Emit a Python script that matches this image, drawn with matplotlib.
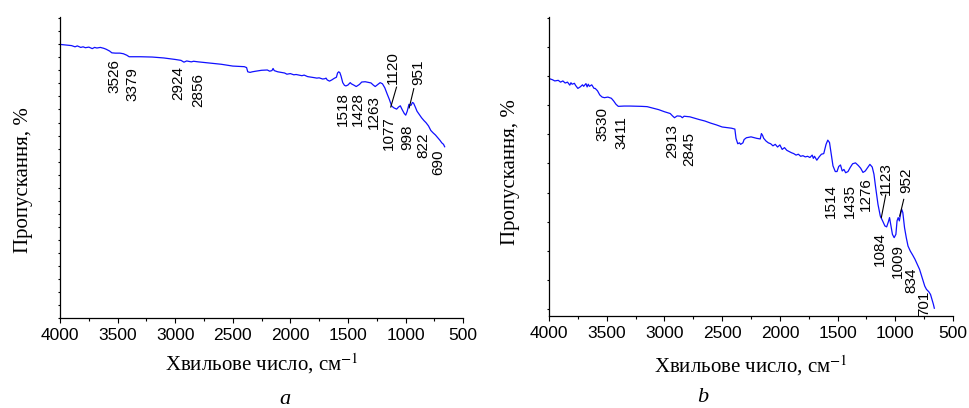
import numpy as np
import matplotlib
matplotlib.use("Agg")
import matplotlib.pyplot as plt
from matplotlib.ticker import MultipleLocator, FixedLocator, NullFormatter

plt.rcParams['mathtext.fontset'] = 'stix'

# ---- spectrum a (wavenumber, transmittance in % of axis height) ----
wn_a = [4000, 3950, 3900, 3870, 3850, 3820, 3800, 3780, 3750, 3720, 3700, 3680,
        3650, 3620, 3600, 3570, 3550, 3520, 3480, 3450, 3420, 3400, 3300, 3200,
        3100, 3000, 2950, 2924, 2900, 2860, 2840, 2800, 2700, 2600, 2500, 2400,
        2380, 2370, 2350, 2330, 2300, 2250, 2200, 2180, 2160, 2150, 2140, 2110,
        2080, 2050, 2030, 2000, 1970, 1950, 1900, 1880, 1850, 1800, 1770, 1750,
        1720, 1700, 1690, 1680, 1660, 1640, 1620, 1600, 1590, 1580, 1570, 1560,
        1545, 1530, 1518, 1500, 1480, 1470, 1450, 1428, 1400, 1380, 1350, 1300,
        1280, 1263, 1240, 1220, 1200, 1180, 1160, 1140, 1120, 1100, 1077, 1060,
        1045, 1030, 1010, 998, 985, 970, 960, 951, 940, 930, 915, 900, 880, 860,
        840, 822, 800, 780, 760, 740, 720, 700, 685, 670, 660]
tr_a = [90.9, 90.7, 90.5, 90.1, 90.4, 89.9, 90.1, 89.8, 90.0, 89.5, 89.9, 89.7,
        89.9, 89.6, 89.3, 88.7, 88.1, 88.0, 88.0, 87.8, 87.3, 86.8, 86.8, 86.7,
        86.4, 85.9, 85.6, 85.0, 85.4, 85.1, 85.3, 85.1, 84.7, 84.3, 83.7, 83.5,
        83.2, 81.8, 81.6, 81.8, 82.0, 82.3, 82.4, 82.0, 82.2, 82.9, 82.2, 81.8,
        81.6, 81.4, 81.0, 81.2, 80.8, 80.9, 80.5, 80.7, 80.2, 79.9, 79.7, 79.8,
        79.4, 79.5, 79.7, 79.1, 78.7, 79.1, 79.6, 80.0, 81.4, 81.8, 81.5, 80.4,
        78.2, 77.3, 77.1, 77.4, 78.2, 77.8, 77.4, 76.9, 77.6, 78.4, 78.5, 78.1,
        77.4, 76.9, 77.6, 78.2, 77.8, 76.5, 74.5, 72.6, 70.4, 69.8, 69.4, 70.1,
        70.5, 69.3, 67.9, 67.4, 68.7, 71.0, 70.7, 70.7, 71.6, 71.4, 70.1, 68.7,
        67.6, 66.5, 65.6, 64.9, 63.8, 62.3, 61.5, 60.8, 59.9, 59.0, 58.2, 57.7, 56.9]

# ---- spectrum b ----
wn_b = [4000, 3970, 3950, 3920, 3900, 3880, 3860, 3840, 3820, 3810, 3800, 3780,
        3770, 3750, 3730, 3710, 3700, 3680, 3670, 3660, 3650, 3630, 3610, 3600,
        3580, 3560, 3540, 3520, 3490, 3460, 3440, 3420, 3400, 3350, 3300, 3200,
        3150, 3100, 3050, 3000, 2950, 2930, 2913, 2890, 2860, 2845, 2830, 2780,
        2700, 2650, 2600, 2550, 2500, 2420, 2390, 2380, 2365, 2350, 2340, 2320,
        2310, 2290, 2250, 2200, 2170, 2160, 2150, 2140, 2120, 2100, 2080, 2060,
        2040, 2020, 2000, 1980, 1960, 1940, 1920, 1900, 1880, 1860, 1840, 1820,
        1800, 1780, 1760, 1740, 1720, 1710, 1700, 1680, 1660, 1640, 1620, 1600,
        1585, 1570, 1555, 1540, 1520, 1505, 1490, 1475, 1460, 1445, 1430, 1410,
        1390, 1370, 1345, 1320, 1300, 1280, 1260, 1240, 1220, 1200, 1185, 1170,
        1150, 1130, 1110, 1090, 1075, 1060, 1050, 1040, 1025, 1010, 995, 985,
        975, 965, 955, 945, 935, 920, 905, 890, 870, 850, 830, 810, 790, 775,
        760, 745, 730, 710, 695, 680, 670, 662]
tr_b = [79.4, 79.0, 78.6, 78.8, 78.2, 78.6, 77.9, 78.2, 77.2, 78.0, 77.5, 77.8,
        77.1, 76.1, 76.6, 77.3, 76.8, 77.7, 76.6, 77.5, 76.8, 77.3, 76.1, 76.1,
        75.3, 73.9, 73.2, 73.0, 73.2, 72.8, 71.9, 70.8, 70.1, 70.2, 70.2, 70.1,
        70.0, 69.5, 69.0, 68.3, 67.7, 66.9, 66.3, 66.9, 66.8, 66.3, 66.8, 66.6,
        65.7, 65.2, 64.5, 63.9, 63.2, 62.8, 62.5, 59.4, 57.6, 57.9, 57.4, 57.9,
        59.0, 59.6, 59.9, 59.4, 59.2, 61.0, 60.4, 59.4, 58.5, 57.9, 57.6, 56.9,
        57.4, 56.5, 57.2, 55.7, 56.3, 55.4, 55.0, 54.6, 54.3, 53.8, 54.1, 53.4,
        53.6, 53.2, 53.4, 53.0, 53.8, 52.7, 53.4, 52.1, 53.2, 54.1, 54.3, 57.4,
        58.8, 58.0, 54.1, 50.2, 48.3, 48.3, 50.0, 50.5, 48.5, 49.0, 47.9, 48.3,
        49.7, 50.9, 51.2, 50.3, 49.4, 48.0, 48.5, 49.6, 50.7, 49.8, 47.4, 42.9,
        37.3, 33.4, 31.8, 30.1, 29.8, 31.5, 32.9, 30.7, 27.3, 26.2, 27.3, 31.8,
        32.9, 31.8, 34.0, 35.7, 34.6, 29.5, 26.2, 23.4, 21.7, 20.4, 19.0, 17.3,
        15.6, 13.7, 11.7, 10.0, 8.9, 8.1, 7.2, 5.2, 3.9, 2.6]

# peak labels: text, x position, top of text
labels_a = ['3526', '3379', '2924', '2856', '1518', '1428', '1263', '1077',
            '998', '822', '690', '1120', '951']
lab_x_a = [3531, 3372, 2973, 2802, 1541, 1411, 1275, 1142, 986, 847, 717, 1107, 890]
lab_y_a = [85.9, 83.4, 83.7, 81.5, 75.2, 75.2, 74.1, 67.1, 64.3, 61.5, 56.0, 88.7, 85.9]
lead_a = [([1078, 1128], [76.7, 70.1]), ([928, 968], [76.2, 69.8])]

labels_b = ['3530', '3411', '2913', '2845', '1514', '1435', '1276', '1123',
            '952', '1084', '1009', '834', '701']
lab_x_b = [3541, 3373, 2934, 2781, 1554, 1390, 1251, 1078, 904, 1135, 977, 861, 751]
lab_y_b = [69.9, 66.9, 64.1, 61.5, 44.3, 44.3, 46.5, 51.6, 49.8, 28.2, 24.2, 16.2, 8.4]
lead_b = [([1083, 1121], [40.5, 32.9]), ([927, 962], [39.0, 33.4])]

xlabel = 'Хвильове число, см$^{-1}$'
ylabel = 'Пропускання, %'

fig = plt.figure(figsize=(9.70, 4.08), dpi=100)
ax_a = fig.add_axes([0.0619, 0.2206, 0.4155, 0.7377])
ax_b = fig.add_axes([0.566, 0.2255, 0.4165, 0.733])

panels = [
    (ax_a, wn_a, tr_a, labels_a, lab_x_a, lab_y_a, lead_a, np.arange(0, 101, 4.33)),
    (ax_b, wn_b, tr_b, labels_b, lab_x_b, lab_y_b, lead_b, np.linspace(2.4, 99.6, 11)),
]

for ax, wn, tr, labs, lx, ly, leads, yt in panels:
    ax.plot(wn, tr, color='#1010ff', lw=0.9)
    ax.set_xlim(4000, 500)
    ax.set_ylim(0, 100)
    for s in ['top', 'right']:
        ax.spines[s].set_visible(False)
    for s in ['left', 'bottom']:
        ax.spines[s].set_linewidth(0.9)
    ax.xaxis.set_major_locator(MultipleLocator(500))
    ax.xaxis.set_minor_locator(MultipleLocator(250))
    ax.yaxis.set_major_locator(FixedLocator(yt))
    ax.yaxis.set_major_formatter(NullFormatter())
    ax.tick_params(axis='x', which='major', direction='out', length=3.5, width=0.8,
                   pad=4, labelsize=12.5)
    ax.tick_params(axis='x', which='minor', direction='out', length=2.2, width=0.8)
    ax.tick_params(axis='y', which='major', direction='out', length=1.5, width=0.8)
    for t in ax.get_xticklabels():
        t.set_family('Liberation Sans')
    for s, x, y in zip(labs, lx, ly):
        ax.text(x, y, s, rotation=90, ha='center', va='top', fontsize=11,
                family='Liberation Sans')
    for xs, ys in leads:
        ax.plot(xs, ys, color='black', lw=0.8)
    ax.set_xlabel(xlabel, family='Liberation Serif', fontsize=15)
    ax.set_ylabel(ylabel, family='Liberation Serif', fontsize=15)

ax_a.xaxis.set_label_coords(0.5, -0.11)
ax_a.yaxis.set_label_coords(-0.066, 0.458)
ax_b.xaxis.set_label_coords(0.5, -0.125)
ax_b.yaxis.set_label_coords(-0.072, 0.48)

fig.text(285 / 970, 1 - 400 / 408, 'a', ha='center', va='center',
         family='Liberation Serif', style='italic', fontsize=16)
fig.text(703 / 970, 1 - 398 / 408, 'b', ha='center', va='center',
         family='Liberation Serif', style='italic', fontsize=16)

fig.savefig('out.png', dpi=100)
